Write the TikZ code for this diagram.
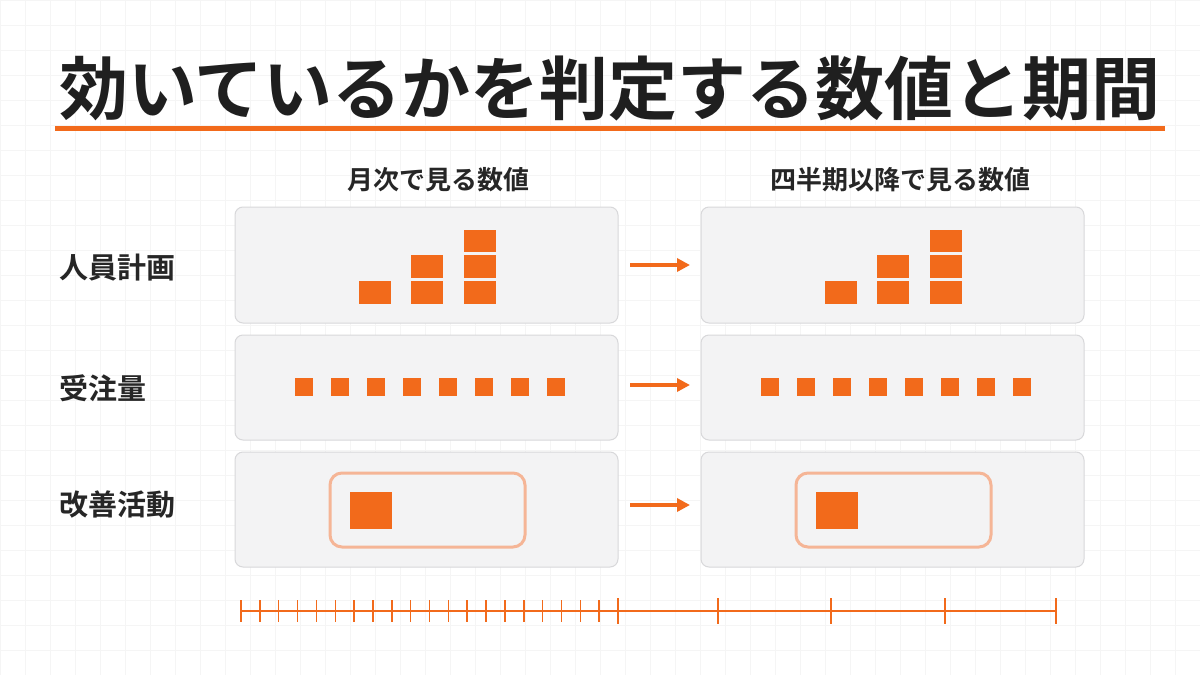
\documentclass[tikz,border=0pt]{standalone}
\usepackage{fontspec}
\setmainfont{Noto Sans CJK JP}[BoldFont={* Bold}]
\usetikzlibrary{arrows.meta,positioning}
\definecolor{accent}{HTML}{F26A1B}
\definecolor{softacc}{HTML}{F5B596}
\definecolor{panelbg}{HTML}{F3F3F4}
\definecolor{panelln}{HTML}{D8D8DA}
\definecolor{gridln}{HTML}{F5F5F5}

\tikzset{
  panel/.style={draw=panelln,fill=panelbg,rounded corners=8pt,line width=1pt},
  blk/.style={fill=accent},
  rowlabel/.style={anchor=west,font=\fontsize{29}{32}\selectfont\bfseries,text=black!85},
  colhead/.style={font=\fontsize{26}{29}\selectfont\bfseries,text=black!85},
  go/.style={-{Triangle[length=13pt,width=13pt]},accent,line width=3.5pt},
  tick/.style={accent,line width=1.5pt}
}

\begin{document}
\begin{tikzpicture}[x=1pt,y=-1pt]
  \useasboundingbox (0,0) rectangle (1200,675);
  % background grid
  \fill[white] (0,0) rectangle (1200,675);
  \foreach \g in {0,25,...,1200} \draw[gridln,line width=.5pt] (\g,0) -- (\g,675);
  \foreach \g in {0,25,...,675} \draw[gridln,line width=.5pt] (0,\g) -- (1200,\g);

  % title
  \node[anchor=center,font=\fontsize{69}{74}\selectfont\bfseries,text=black!88] (title) at (610,88)
    {効いているかを判定する数値と期間};
  \fill[accent] (55,126) rectangle (1165,131);

  % headers
  \node[colhead] (headL) at (438,180) {月次で見る数値};
  \node[colhead] (headR) at (900,180) {四半期以降で見る数値};

  % row labels
  \node[rowlabel] (rowA) at (56,268) {人員計画};
  \node[rowlabel] (rowB) at (56,388) {受注量};
  \node[rowlabel] (rowC) at (56,505) {改善活動};

  \foreach \dx in {0,466} {
    \begin{scope}[shift={(\dx,0)}]
      % panels
      \draw[panel] (235,207) rectangle (618,323);
      \draw[panel] (235,335) rectangle (618,440);
      \draw[panel] (235,452) rectangle (618,567);
      % staff bars
      \fill[blk] (359,281) rectangle (391,304);
      \fill[blk] (411,281) rectangle (443,304);
      \fill[blk] (411,255) rectangle (443,278);
      \fill[blk] (464,281) rectangle (496,304);
      \fill[blk] (464,255) rectangle (496,278);
      \fill[blk] (464,230) rectangle (496,252);
      % orders
      \foreach \i in {0,...,7}
        \fill[blk] ({295+36*\i},378) rectangle ++(18,18);
      % improvement
      \draw[softacc,line width=3pt,rounded corners=12pt] (330,473) rectangle (525,547);
      \fill[blk] (350,492) rectangle (392,529);
    \end{scope}
  }

  % arrows
  \foreach \y in {265,385,505}
    \draw[go] (630,\y) -- (690,\y);

  % timeline
  \draw[accent,line width=2pt] (240,611) -- (1056,611);
  \foreach \i in {0,...,19}
    \draw[tick] ({241+18.85*\i},600) -- ++(0,22);
  \foreach \x in {618,718,831,945,1056}
    \draw[tick,line width=1.8pt] (\x,598) -- (\x,624);
\end{tikzpicture}
\end{document}
